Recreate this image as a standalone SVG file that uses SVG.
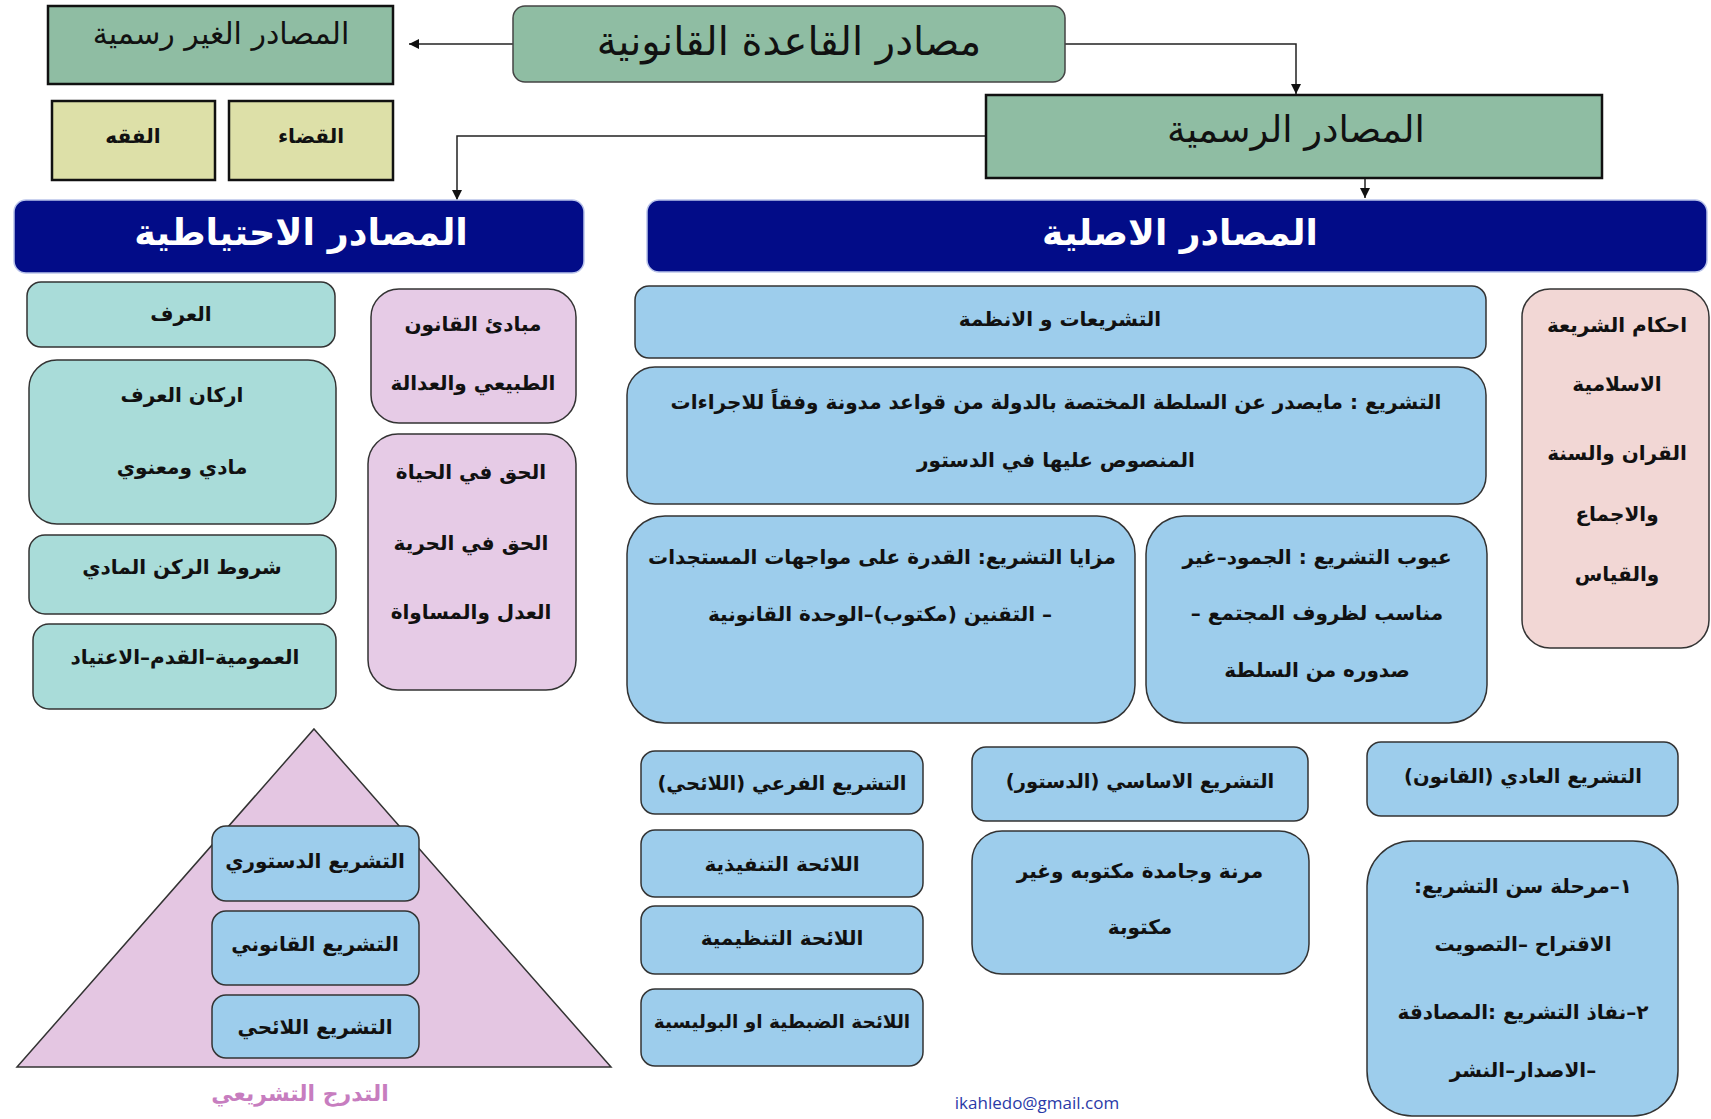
<svg xmlns="http://www.w3.org/2000/svg" width="1711" height="1119" viewBox="0 0 1711 1119">
<style>
text{font-family:"DejaVu Sans",sans-serif;font-weight:bold;direction:rtl;text-anchor:middle;dominant-baseline:central;fill:#111}
.t{font-size:20px}
.big{font-size:36px;font-weight:normal}
.navyt{font-size:36px;fill:#fff}
.green{fill:#8fbda3;stroke:#111;stroke-width:2.5}
.greenr{fill:#8fbda3;stroke:#444;stroke-width:1.5}
.olive{fill:#dde0a8;stroke:#111;stroke-width:2.5}
.navy{fill:#020c88;stroke:#b9c3ea;stroke-width:1.5}
.teal{fill:#a9dcd9;stroke:#333;stroke-width:1.5}
.lav{fill:#e6cbe6;stroke:#333;stroke-width:1.5}
.pink{fill:#f2d7d5;stroke:#333;stroke-width:1.5}
.blue{fill:#9dcdec;stroke:#333;stroke-width:1.5}
.conn{fill:none;stroke:#222;stroke-width:1.5}
</style>
<defs>
<marker id="ah" markerUnits="userSpaceOnUse" markerWidth="10" markerHeight="10" refX="10" refY="5" orient="auto"><path d="M0,0 L10,5 L0,10 z" fill="#111"/></marker>
</defs>
<rect width="1711" height="1119" fill="#fff"/>

<g id="connectors">
<path class="conn" d="M513,44 H409" marker-end="url(#ah)"/>
<path class="conn" d="M1065,44 H1296 V94" marker-end="url(#ah)"/>
<path class="conn" d="M986,136 H457 V200" marker-end="url(#ah)"/>
<path class="conn" d="M1365,178 V198" marker-end="url(#ah)"/>
</g>

<g id="root"><rect class="greenr" x="513" y="6" width="552" height="76" rx="12"/><text class="big" x="789" y="41" style="font-size:40px">مصادر القاعدة القانونية</text></g>
<g id="unofficial"><rect class="green" x="48" y="6" width="345" height="78"/><text class="big" x="221" y="33" style="font-size:30px">المصادر الغير رسمية</text></g>
<g id="judiciary"><rect class="olive" x="229" y="101" width="164" height="79"/><text class="t" x="311" y="136">القضاء</text></g>
<g id="fiqh"><rect class="olive" x="52" y="101" width="163" height="79"/><text class="t" x="133" y="136">الفقه</text></g>
<g id="official"><rect class="green" x="986" y="95" width="616" height="83"/><text class="big" x="1296" y="129" style="font-size:37px">المصادر الرسمية</text></g>

<g id="reserve"><rect class="navy" x="14" y="200" width="570" height="73" rx="12"/><text class="navyt" x="301" y="232" style="font-size:36.5px">المصادر الاحتياطية</text></g>
<g id="original"><rect class="navy" x="647" y="200" width="1060" height="72" rx="12"/><text class="navyt" x="1180" y="232">المصادر الاصلية</text></g>

<g id="custom"><rect class="teal" x="27" y="282" width="308" height="65" rx="14"/><text class="t" x="181" y="314">العرف</text></g>
<g id="custom-pillars"><rect class="teal" x="29" y="360" width="307" height="164" rx="28"/><text class="t" x="182" y="395">اركان العرف</text><text class="t" x="182" y="467">مادي ومعنوي</text></g>
<g id="material-conditions"><rect class="teal" x="29" y="535" width="307" height="79" rx="16"/><text class="t" x="182" y="567">شروط الركن المادي</text></g>
<g id="conditions-list"><rect class="teal" x="33" y="624" width="303" height="85" rx="16"/><text class="t" x="185" y="657">العمومية–القدم–الاعتياد</text></g>
<g id="natural-law"><rect class="lav" x="371" y="289" width="205" height="134" rx="28"/><text class="t" x="473" y="324">مبادئ القانون</text><text class="t" x="473" y="383">الطبيعي والعدالة</text></g>
<g id="rights"><rect class="lav" x="368" y="434" width="208" height="256" rx="30"/><text class="t" x="471" y="472">الحق في الحياة</text><text class="t" x="471" y="543">الحق في الحرية</text><text class="t" x="471" y="612">العدل والمساواة</text></g>

<g id="hierarchy">
<path d="M314,729 L611,1067 L17,1067 Z" fill="#e4c6e2" stroke="#333" stroke-width="1.5"/>
<rect class="blue" x="212" y="826" width="207" height="75" rx="14"/><text class="t" x="315" y="861">التشريع الدستوري</text>
<rect class="blue" x="212" y="911" width="207" height="74" rx="14"/><text class="t" x="315" y="944">التشريع القانوني</text>
<rect class="blue" x="212" y="995" width="207" height="63" rx="14"/><text class="t" x="315" y="1027">التشريع اللائحي</text>
<text class="t" x="300" y="1093" style="fill:#c77dbf;font-size:22px">التدرج التشريعي</text>
</g>

<g id="legislation"><rect class="blue" x="635" y="286" width="851" height="72" rx="14"/><text class="t" x="1060" y="319">التشريعات و الانظمة</text></g>
<g id="definition"><rect class="blue" x="627" y="367" width="859" height="137" rx="28"/><text class="t" x="1056" y="402">التشريع : مايصدر عن السلطة المختصة بالدولة من قواعد مدونة وفقاً للاجراءات</text><text class="t" x="1056" y="460">المنصوص عليها في الدستور</text></g>
<g id="advantages"><rect class="blue" x="627" y="516" width="508" height="207" rx="38"/><text class="t" x="882" y="557">مزايا التشريع: القدرة على مواجهات المستجدات</text><text class="t" x="880" y="614">– التقنين (مكتوب)–الوحدة القانونية</text></g>
<g id="defects"><rect class="blue" x="1146" y="516" width="341" height="207" rx="38"/><text class="t" x="1317" y="557">عيوب التشريع : الجمود–غير</text><text class="t" x="1317" y="613">مناسب لظروف المجتمع –</text><text class="t" x="1317" y="670">صدوره من السلطة</text></g>
<g id="sharia"><rect class="pink" x="1522" y="289" width="187" height="359" rx="28"/><text class="t" x="1617" y="325">احكام الشريعة</text><text class="t" x="1617" y="384">الاسلامية</text><text class="t" x="1617" y="453">القران والسنة</text><text class="t" x="1617" y="514">والاجماع</text><text class="t" x="1617" y="574">والقياس</text></g>

<g id="secondary"><rect class="blue" x="641" y="751" width="282" height="63" rx="14"/><text class="t" x="782" y="783" style="font-size:19.5px">التشريع الفرعي (اللائحي)</text></g>
<g id="executive"><rect class="blue" x="641" y="830" width="282" height="67" rx="14"/><text class="t" x="782" y="864">اللائحة التنفيذية</text></g>
<g id="regulatory"><rect class="blue" x="641" y="906" width="282" height="68" rx="14"/><text class="t" x="782" y="938">اللائحة التنظيمية</text></g>
<g id="police"><rect class="blue" x="641" y="989" width="282" height="77" rx="14"/><text class="t" x="782" y="1021" style="font-size:18.5px">اللائحة الضبطية او البوليسية</text></g>
<g id="constitution"><rect class="blue" x="972" y="747" width="336" height="74" rx="14"/><text class="t" x="1140" y="781" style="font-size:19.5px">التشريع الاساسي (الدستور)</text></g>
<g id="constitution-types"><rect class="blue" x="972" y="831" width="337" height="143" rx="30"/><text class="t" x="1140" y="871">مرنة وجامدة مكتوبه وغير</text><text class="t" x="1140" y="927">مكتوبة</text></g>
<g id="ordinary"><rect class="blue" x="1367" y="742" width="311" height="74" rx="14"/><text class="t" x="1523" y="776" style="font-size:19.5px">التشريع العادي (القانون)</text></g>
<g id="stages"><rect class="blue" x="1367" y="841" width="311" height="275" rx="45"/><text class="t" x="1523" y="886">١–مرحلة سن التشريع:</text><text class="t" x="1523" y="944">الاقتراح –التصويت</text><text class="t" x="1523" y="1012">٢–نفاذ التشريع :المصادقة</text><text class="t" x="1523" y="1070">–الاصدار–النشر</text></g>

<text x="1037" y="1102" style="font-family:'Open Sans',sans-serif;font-weight:normal;font-size:17px;fill:#2a3aa8;direction:ltr">ikahledo@gmail.com</text>
</svg>
